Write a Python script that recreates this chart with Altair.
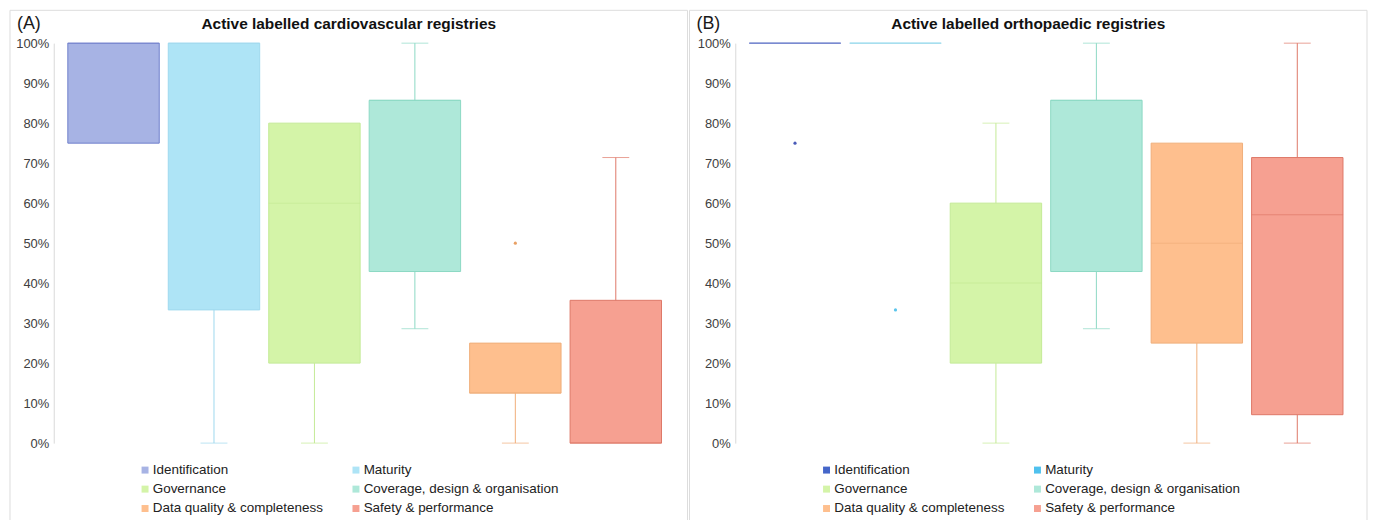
import altair as alt
import pandas as pd

categories = ["Identification", "Maturity", "Governance",
              "Coverage, design & organisation", "Data quality & completeness",
              "Safety & performance"]

# Panel A: cardiovascular (box statistics, as fractions)
a_q1 = [0.75, 0.333, 0.20, 0.429, 0.125, 0.0]
a_median = [1.0, 1.0, 0.60, 0.857, 0.125, 0.0]
a_q3 = [1.0, 1.0, 0.80, 0.857, 0.25, 0.357]
a_low = [0.75, 0.0, 0.0, 0.286, 0.0, 0.0]
a_high = [1.0, 1.0, 0.80, 1.0, 0.25, 0.714]
a_out_cat = ["Data quality & completeness"]
a_out_val = [0.50]

# Panel B: orthopaedic
b_q1 = [1.0, 1.0, 0.20, 0.429, 0.25, 0.071]
b_median = [1.0, 1.0, 0.40, 0.857, 0.50, 0.571]
b_q3 = [1.0, 1.0, 0.60, 0.857, 0.75, 0.714]
b_low = [1.0, 1.0, 0.0, 0.286, 0.0, 0.0]
b_high = [1.0, 1.0, 0.80, 1.0, 0.75, 1.0]
b_out_cat = ["Identification", "Maturity"]
b_out_val = [0.75, 0.333]

tick_values = [0.0, 0.1, 0.2, 0.3, 0.4, 0.5, 0.6, 0.7, 0.8, 0.9, 1.0]

fills_a = ["#A7B3E4", "#AEE4F6", "#D4F4A8", "#AEE8D9", "#FEBF8E", "#F6A091"]
fills_b = ["#4566C9", "#4FC1EE", "#D4F4A8", "#AEE8D9", "#FEBF8E", "#F6A091"]
lines_a = ["#7080CC", "#9ED9EE", "#C4EA96", "#8CD9C4", "#F0AE7A", "#DE7868"]
lines_b = ["#7384CF", "#A3DDEE", "#C4EA96", "#8CD9C4", "#F0AE7A", "#DE7868"]
points_a = ["#4A5BB8", "#5BC5EC", "#A8DC70", "#70CCB0", "#E8A064", "#D86050"]
points_b = ["#4A5BB8", "#5BC5EC", "#A8DC70", "#70CCB0", "#E8A064", "#D86050"]

FONT = "Liberation Sans"
W = 625
H = 402


def panel(letter, title, q1, med, q3, lo, hi, out_cat, out_val, fills, lines, points,
          left, right):
    df = pd.DataFrame({"cat": categories, "q1": q1, "med": med, "q3": q3,
                       "lo": lo, "hi": hi, "line": lines})
    od = pd.DataFrame({"cat": out_cat, "val": out_val})
    od["pc"] = od["cat"].map(dict(zip(categories, points)))

    xenc = alt.X("cat:N", sort=categories, axis=None,
                 scale=alt.Scale(domain=categories, paddingInner=0.09, paddingOuter=0.14))
    ysc = alt.Scale(domain=[0, 1], nice=False, zero=True)
    yax = alt.Axis(title=None, format=".0%", values=tick_values, labelFontSize=13,
                   labelColor="#404040", labelFont=FONT, domainColor="#D9D9D9",
                   ticks=False, tickSize=0, labelPadding=5, grid=False, zindex=1)
    stroke = alt.Stroke("line:N", scale=None)

    base = alt.Chart(df)

    border = alt.Chart(pd.DataFrame({"k": [0]})).mark_rect(
        fill="white", fillOpacity=0, stroke="#DDDDDD", strokeWidth=1
    ).encode(x=alt.value(left), x2=alt.value(right), y=alt.value(-33), y2=alt.value(485))

    boxes = base.mark_bar(strokeWidth=1).encode(
        x=xenc,
        y=alt.Y("q1:Q", scale=ysc, axis=yax),
        y2="q3:Q",
        fill=alt.Fill("cat:N", sort=categories,
                      scale=alt.Scale(domain=categories, range=fills),
                      legend=alt.Legend(title=None, orient="none", legendX=85, legendY=422,
                                        columns=2, direction="horizontal",
                                        symbolType="square", symbolSize=49,
                                        symbolStrokeWidth=0,
                                        labelFont=FONT, labelFontSize=13.5,
                                        labelColor="#222222", labelOffset=1,
                                        labelLimit=400,
                                        columnPadding=26, rowPadding=4.5)),
        stroke=stroke,
    )

    wlo = base.transform_filter("datum.lo < datum.q1").mark_rule(strokeWidth=1).encode(
        x=xenc, y=alt.Y("lo:Q", scale=ysc, axis=yax), y2="q1:Q", stroke=stroke)
    whi = base.transform_filter("datum.hi > datum.q3").mark_rule(strokeWidth=1).encode(
        x=xenc, y=alt.Y("q3:Q", scale=ysc, axis=yax), y2="hi:Q", stroke=stroke)
    clo = base.transform_filter("datum.lo < datum.q1").mark_tick(size=27, thickness=1).encode(
        x=xenc, y=alt.Y("lo:Q", scale=ysc, axis=yax), color=alt.Color("line:N", scale=None))
    chi = base.transform_filter("datum.hi > datum.q3").mark_tick(size=27, thickness=1).encode(
        x=xenc, y=alt.Y("hi:Q", scale=ysc, axis=yax), color=alt.Color("line:N", scale=None))
    meds = base.mark_tick(size=92, thickness=1).encode(
        x=xenc, y=alt.Y("med:Q", scale=ysc, axis=yax), color=alt.Color("line:N", scale=None))
    outs = alt.Chart(od).mark_circle(size=10, opacity=1).encode(
        x=xenc, y=alt.Y("val:Q", scale=ysc, axis=yax), color=alt.Color("pc:N", scale=None))

    lbl = alt.Chart(pd.DataFrame({"t": [letter]})).mark_text(
        align="left", baseline="middle", font=FONT, fontSize=18, color="#1A1A1A"
    ).encode(text="t:N", x=alt.value(left + 7), y=alt.value(-19))
    ttl = alt.Chart(pd.DataFrame({"t": [title]})).mark_text(
        align="center", baseline="middle", font=FONT, fontSize=15.5, fontWeight="bold",
        color="#111111"
    ).encode(text="t:N", x=alt.value((left + right) / 2), y=alt.value(-19))

    return alt.layer(border, boxes, wlo, whi, clo, chi, meds, outs, lbl, ttl).properties(
        width=W, height=H)


pa = panel("(A)", "Active labelled cardiovascular registries",
           a_q1, a_median, a_q3, a_low, a_high, a_out_cat, a_out_val, fills_a, lines_a, points_a,
           -44, 637)
pb = panel("(B)", "Active labelled orthopaedic registries",
           b_q1, b_median, b_q3, b_low, b_high, b_out_cat, b_out_val, fills_b, lines_b, points_b,
           -46, 635)

chart = alt.hconcat(pa, pb, spacing=0).resolve_scale(fill="independent").properties(
    padding={"left": 1, "top": 0, "right": 0, "bottom": 0}
).configure_view(stroke=None)

chart.save("out.html", embed_options={"renderer": "svg", "actions": False})
